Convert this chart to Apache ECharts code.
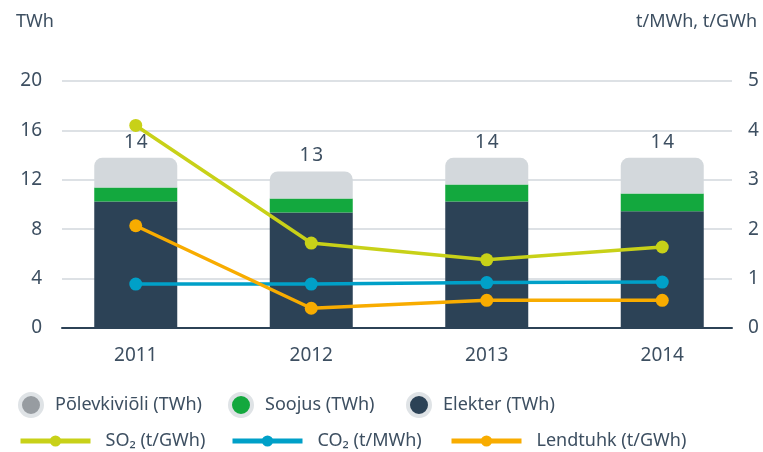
<!DOCTYPE html>
<html>
<head>
<meta charset="utf-8">
<script src="https://cdn.jsdelivr.net/npm/echarts@6/dist/echarts.min.js"></script>
<style>
  html, body { margin: 0; padding: 0; background: #fff; }
  #chart { width: 763px; height: 452px; }
</style>
</head>
<body>
<div id="chart"></div>
<script>
// Production volumes (TWh) and specific emissions per year
const years = ['2011', '2012', '2013', '2014'];
const elekter = [10.24, 9.35, 10.24, 9.46];        // TWh
const soojus = [1.14, 1.14, 1.38, 1.43];           // TWh
const polevkivioli = [2.40, 2.18, 2.16, 2.89];     // TWh
const so2 = [4.10, 1.72, 1.38, 1.64];              // t/GWh
const co2 = [0.89, 0.89, 0.92, 0.93];              // t/MWh
const lendtuhk = [2.07, 0.40, 0.56, 0.56];         // t/GWh

const leftTicks = { min: 0, max: 20, interval: 4 };
const rightTicks = { min: 0, max: 5, interval: 1 };

const FONT = 'Noto Sans';
const TEXT = '#3d4f61';
const C_DARK = '#2c4256';
const C_GREEN = '#13a83e';
const C_OIL = '#d3d8dc';
const C_SO2 = '#c8d118';
const C_CO2 = '#00a0c8';
const C_ASH = '#f8ac00';

const totals = years.map((_, i) => elekter[i] + soojus[i] + polevkivioli[i]);

const gridTop = 81, gridBottom = 124;

function circleLegend(name, left, fill) {
  return {
    left: left, top: 392, padding: 0,
    icon: 'circle', itemWidth: 22, itemHeight: 22,
    textStyle: { fontFamily: FONT, fontSize: 18, color: TEXT, padding: [0, 0, 0, 8] },
    data: [{ name: name, itemStyle: { color: fill, borderColor: '#dfe3e6', borderWidth: 4 } }],
    selectedMode: false
  };
}
function lineLegend(name, left, color) {
  return {
    left: left, top: 432, padding: 0,
    itemWidth: 70, itemHeight: 14,
    textStyle: { fontFamily: FONT, fontSize: 18, color: TEXT, padding: [0, 0, 0, 10] },
    data: [{ name: name, lineStyle: { width: 5, color: color }, itemStyle: { color: color } }],
    selectedMode: false
  };
}

const chart = echarts.init(document.getElementById('chart'), null, { renderer: 'canvas' });

chart.setOption({
  animation: false,
  textStyle: { fontFamily: FONT },
  grid: [
    { left: 62, right: 31, top: gridTop, bottom: gridBottom },
    { left: 48, right: 13, top: gridTop, bottom: gridBottom }
  ],
  xAxis: [
    {
      gridIndex: 0, type: 'value', min: 0, max: 1,
      axisLine: { show: true, onZero: false, lineStyle: { color: C_DARK, width: 2 } },
      axisTick: { show: false }, axisLabel: { show: false }, splitLine: { show: false }
    },
    {
      gridIndex: 1, type: 'category', data: years,
      axisLine: { show: false }, axisTick: { show: false },
      axisLabel: { margin: 18, fontFamily: FONT, fontSize: 19, color: TEXT }
    }
  ],
  yAxis: [
    {
      gridIndex: 0, type: 'value', ...leftTicks, position: 'left',
      axisLine: { show: false }, axisTick: { show: false },
      axisLabel: { margin: 20, fontFamily: FONT, fontSize: 19, color: TEXT },
      splitLine: { lineStyle: { color: '#dde1e5', width: 2 } }
    },
    {
      gridIndex: 0, type: 'value', ...rightTicks, position: 'right',
      axisLine: { show: false }, axisTick: { show: false },
      axisLabel: { margin: 16, fontFamily: FONT, fontSize: 19, color: TEXT },
      splitLine: { show: false }
    },
    { gridIndex: 1, type: 'value', ...leftTicks, show: false },
    { gridIndex: 1, type: 'value', ...rightTicks, show: false, position: 'right' }
  ],
  graphic: [
    { type: 'text', left: 16, top: 13, style: { text: 'TWh', font: '18px "Noto Sans"', fill: TEXT } },
    { type: 'text', right: 6, top: 13, style: { text: 't/MWh, t/GWh', font: '18px "Noto Sans"', fill: TEXT } }
  ],
  legend: [
    circleLegend('Põlevkiviõli (TWh)', 18, '#979ca1'),
    circleLegend('Soojus (TWh)', 228, C_GREEN),
    circleLegend('Elekter (TWh)', 406, C_DARK),
    lineLegend('SO₂ (t/GWh)', 18, C_SO2),
    lineLegend('CO₂ (t/MWh)', 230, C_CO2),
    lineLegend('Lendtuhk (t/GWh)', 449, C_ASH)
  ],
  series: [
    {
      name: 'Elekter (TWh)', type: 'bar', stack: 'prod', barWidth: 83,
      xAxisIndex: 1, yAxisIndex: 2, data: elekter,
      itemStyle: { color: C_DARK }
    },
    {
      name: 'Soojus (TWh)', type: 'bar', stack: 'prod', barWidth: 83,
      xAxisIndex: 1, yAxisIndex: 2, data: soojus,
      itemStyle: { color: C_GREEN }
    },
    {
      name: 'Põlevkiviõli (TWh)', type: 'bar', stack: 'prod', barWidth: 83,
      xAxisIndex: 1, yAxisIndex: 2, data: polevkivioli,
      itemStyle: { color: C_OIL, borderRadius: [8, 8, 0, 0] },
      label: {
        show: true, position: 'top', distance: 6,
        fontFamily: FONT, fontSize: 19, color: TEXT,
        formatter: p => String(Math.round(totals[p.dataIndex])).split('').join('\u200a')
      }
    },
    {
      name: 'SO₂ (t/GWh)', type: 'line', xAxisIndex: 1, yAxisIndex: 3, data: so2,
      symbol: 'circle', symbolSize: 13, z: 5,
      lineStyle: { color: C_SO2, width: 3.5 }, itemStyle: { color: C_SO2 }
    },
    {
      name: 'CO₂ (t/MWh)', type: 'line', xAxisIndex: 1, yAxisIndex: 3, data: co2,
      symbol: 'circle', symbolSize: 13, z: 5,
      lineStyle: { color: C_CO2, width: 3.5 }, itemStyle: { color: C_CO2 }
    },
    {
      name: 'Lendtuhk (t/GWh)', type: 'line', xAxisIndex: 1, yAxisIndex: 3, data: lendtuhk,
      symbol: 'circle', symbolSize: 13, z: 5,
      lineStyle: { color: C_ASH, width: 3.5 }, itemStyle: { color: C_ASH }
    }
  ]
});
</script>
</body>
</html>
